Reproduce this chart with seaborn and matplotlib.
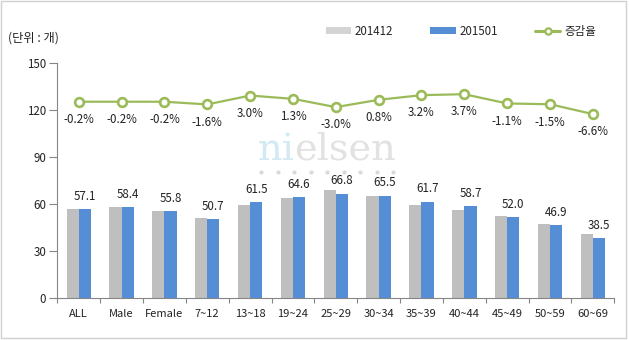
import numpy as np
import pandas as pd
import matplotlib
matplotlib.use("Agg")
import matplotlib.pyplot as plt
from matplotlib.patches import Patch, Rectangle
from matplotlib.lines import Line2D
import seaborn as sns

# ---------------- data ----------------
categories = ["ALL", "Male", "Female", "7~12", "13~18", "19~24", "25~29",
              "30~34", "35~39", "40~44", "45~49", "50~59", "60~69"]
v201412 = [57.2, 58.5, 55.9, 51.5, 59.7, 63.8, 68.9, 65.0, 59.8, 56.6, 52.6, 47.6, 41.2]
v201501 = [57.1, 58.4, 55.8, 50.7, 61.5, 64.6, 66.8, 65.5, 61.7, 58.7, 52.0, 46.9, 38.5]
rates = [-0.2, -0.2, -0.2, -1.6, 3.0, 1.3, -3.0, 0.8, 3.2, 3.7, -1.1, -1.5, -6.6]
series_names = ["201412", "201501"]
rate_name = "증감율"
unit_label = "(단위 : 개)"
y_ticks = [0, 30, 60, 90, 120, 150]

GRAY = "#BFBFBF"
BLUE = "#558ED5"
GREEN = "#9BBB59"
AXIS = "#868686"

sns.set_theme(style="white")
plt.rcParams["font.family"] = ["Noto Sans CJK KR", "DejaVu Sans"]

df = pd.DataFrame({
    "category": categories * 2,
    "period": [series_names[0]] * len(categories) + [series_names[1]] * len(categories),
    "value": v201412 + v201501,
})

fig = plt.figure(figsize=(6.29, 3.40), dpi=100)
ax = fig.add_axes([57.3 / 629, 1 - 298.3 / 340, (614.3 - 57.3) / 629, 235 / 340])

sns.barplot(data=df, x="category", y="value", hue="period", order=categories,
            hue_order=series_names, palette=[GRAY, BLUE], width=0.57,
            saturation=1, linewidth=0, legend=False, ax=ax)

ax.set_ylim(0, 150)
ax.set_yticks(y_ticks)
ax.set_xlim(-0.5, len(categories) - 0.5)
ax.set_xlabel("")
ax.set_ylabel("")
for s in ["top", "right"]:
    ax.spines[s].set_visible(False)
for s in ["left", "bottom"]:
    ax.spines[s].set_color(AXIS)
    ax.spines[s].set_linewidth(0.8)

ax.tick_params(axis="y", which="major", direction="out", length=5.5, width=0.8,
               color=AXIS, pad=2.4, labelsize=8.3, labelcolor="#222222", left=True)
ax.set_xticks(range(len(categories)))
ax.set_xticklabels(categories)
ax.tick_params(axis="x", which="major", length=0, pad=7.5, labelsize=8, labelcolor="#222222")
ax.set_xticks(np.arange(-0.5, len(categories), 1.0), minor=True)
ax.tick_params(axis="x", which="minor", direction="out", length=3.5, width=0.8,
               color=AXIS, bottom=True)

ax.bar_label(ax.containers[1], labels=[f"{v:.1f}" for v in v201501],
             padding=4.5, fontsize=8.3, color="#222222")

# secondary axis for growth rate
ax2 = ax.twinx()
sns.pointplot(x=categories, y=rates, order=categories, ax=ax2, color=GREEN,
              markers="o", linewidth=1.6, markersize=6.3, markeredgewidth=1.9,
              markerfacecolor="white", markeredgecolor=GREEN, errorbar=None)
ax2.set_ylim(-102, 19.7)
ax2.set_xlim(-0.5, len(categories) - 0.5)
ax2.set_yticks([])
ax2.set_ylabel("")
for s in ax2.spines.values():
    s.set_visible(False)
for i, r in enumerate(rates):
    ax2.annotate(f"{r:.1f}%", xy=(i, r), xytext=(0, -12.8), textcoords="offset points",
                 ha="center", va="center", fontsize=8.3, color="#222222")

# legend
handles = [Patch(facecolor="#D4D4D4", edgecolor="none", label=series_names[0]),
           Patch(facecolor=BLUE, edgecolor="none", label=series_names[1]),
           Line2D([], [], color=GREEN, lw=2.2, marker="o", ms=4.5, mew=1.6,
                  mfc="white", mec=GREEN, label=rate_name)]
fig.legend(handles=handles, loc="center", bbox_to_anchor=(461 / 629, 1 - 31.5 / 340),
           ncol=3, frameon=False, fontsize=8.3, handlelength=2.2, handleheight=0.55,
           handletextpad=0.35, columnspacing=3.2, borderpad=0, borderaxespad=0)

fig.text(8 / 629, 1 - 38 / 340, unit_label, ha="left", va="center", fontsize=8.8,
         color="#222222")

# watermark
wm_y = 1 - 159.5 / 340
t_ni = fig.text(257.5 / 629, wm_y, "ni", ha="left", va="baseline",
                fontsize=27.5, family="DejaVu Serif", color="#D3E9F3", zorder=0)
renderer = fig.canvas.get_renderer()
bb = t_ni.get_window_extent(renderer=renderer)
fig.text(bb.x1 / fig.bbox.width, wm_y, "elsen", ha="left", va="baseline",
         fontsize=27.5, family="DejaVu Serif", color="#E2E2E2", zorder=0)
dot_x = np.linspace(261.3, 393, 9) / 629
fig.add_artist(Line2D(dot_x, [1 - 172.3 / 340] * 9, transform=fig.transFigure,
                      ls="none", marker="o", ms=3.0, mew=0, color="#D9D9D9", zorder=5))

# outer border
fig.add_artist(Rectangle((1 / 629, 1.7 / 340), 624.7 / 629, 337 / 340,
                         transform=fig.transFigure, fill=False,
                         edgecolor="#D0D0D0", lw=1.0))

fig.savefig("out.png", dpi=100)
